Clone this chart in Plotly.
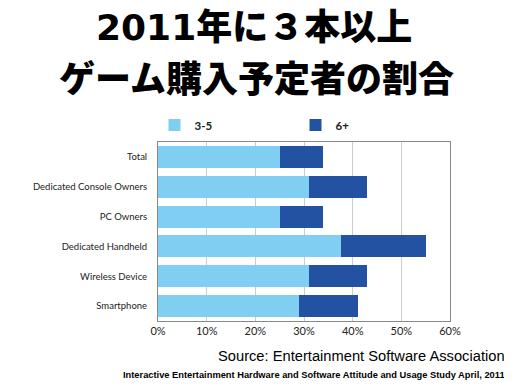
import plotly.graph_objects as go

categories = ["Total", "Dedicated Console Owners", "PC Owners", "Dedicated Handheld", "Wireless Device", "Smartphone"]
share_3_5 = [25, 31, 25, 37.5, 31, 29]
share_6_plus = [9, 12, 9, 17.5, 12, 12]
x_ticks = [0, 10, 20, 30, 40, 50, 60]
x_tick_labels = ["0%", "10%", "20%", "30%", "40%", "50%", "60%"]

# The page body has an 8px margin, so the figure is drawn 8px smaller and offset.
OFF = 8
W, H = 512 - OFF, 384 - OFF
L, R, T, B = 158 - OFF, 62, 142 - OFF, 63
PW, PH = W - L - R, H - T - B

def px(p):
    return (p - OFF - L) / PW

def py(p):
    return (H - B - (p - OFF)) / PH

fig = go.Figure()
fig.add_trace(go.Bar(y=categories, x=share_3_5, name="3-5", orientation="h",
                     marker=dict(color="#80cff3", line=dict(width=0))))
fig.add_trace(go.Bar(y=categories, x=share_6_plus, name="6+", orientation="h",
                     marker=dict(color="#2452a3", line=dict(width=0))))

fig.update_layout(
    width=W, height=H,
    margin=dict(l=L, r=R, t=T, b=B, autoexpand=False),
    paper_bgcolor="white", plot_bgcolor="white",
    barmode="stack", bargap=0.26,
    font=dict(family="Lato, sans-serif", size=11, color="#222"),
    showlegend=True,
    legend=dict(orientation="h", x=px(154.5), y=py(125), xanchor="left", yanchor="middle",
                entrywidth=96, entrywidthmode="pixels", traceorder="normal",
                font=dict(size=11.5, color="#222", weight="bold")),
    xaxis=dict(range=[0, 60], tickvals=x_ticks, ticktext=x_tick_labels,
               showgrid=True, gridcolor="#cccccc", gridwidth=1,
               showline=True, linecolor="#888", linewidth=1, mirror=True,
               ticks="", zeroline=False, tickfont=dict(size=11, color="#222")),
    yaxis=dict(autorange="reversed", showline=True, linecolor="#888", linewidth=1, mirror=True,
               ticks="", ticklabelstandoff=8, automargin=False, tickfont=dict(size=9.5, color="#222")),
)

fig.add_annotation(text="2011年に３本以上", x=px(254), y=py(27), xref="paper", yref="paper",
                   xanchor="center", yanchor="middle", showarrow=False,
                   font=dict(family="DejaVu Sans, Noto Sans CJK JP", size=36, color="black", weight=900))
fig.add_annotation(text="ゲーム購入予定者の割合", x=px(256), y=py(76), xref="paper", yref="paper",
                   xanchor="center", yanchor="middle", showarrow=False,
                   font=dict(family="Noto Sans CJK JP", size=36, color="black", weight=900))

fig.add_annotation(text="Source: Entertainment Software Association", x=px(507), y=py(356),
                   xref="paper", yref="paper", xanchor="right", yanchor="middle", showarrow=False,
                   font=dict(family="Liberation Sans, Arial", size=14.7, color="black"))
fig.add_annotation(text="Interactive Entertainment Hardware and Software Attitude and Usage Study April, 2011",
                   x=px(507), y=py(375), xref="paper", yref="paper", xanchor="right", yanchor="middle",
                   showarrow=False, font=dict(family="Liberation Sans, Arial", size=9.3, color="black", weight="bold"))

fig.write_html("out.html")
